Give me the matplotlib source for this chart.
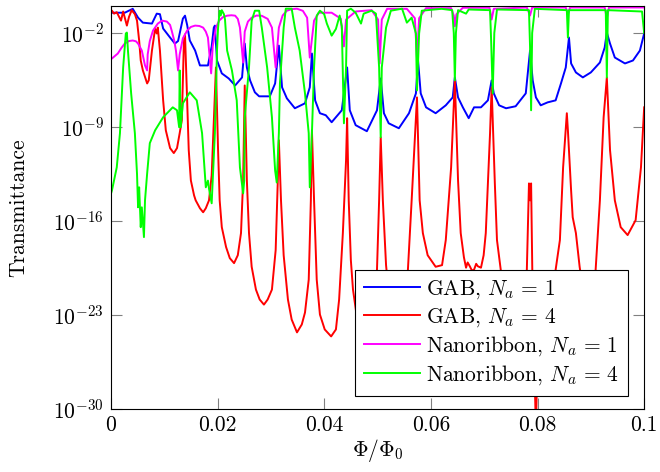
import numpy as np
import matplotlib
matplotlib.use("Agg")
import matplotlib.pyplot as plt
from matplotlib.ticker import FixedLocator, FuncFormatter, NullLocator

plt.rcParams['font.family'] = ['cmr10', 'DejaVu Serif']
plt.rcParams['mathtext.fontset'] = 'cm'
plt.rcParams['axes.formatter.use_mathtext'] = True
plt.rcParams['font.size'] = 15.5

# --- data (x = Phi/Phi0, y = log10 transmittance) ---
gab1_x = [0.0000, 0.0002, 0.0026, 0.0041, 0.0051, 0.0060, 0.0077, 0.0086, 0.0092, 0.0098,
          0.0111, 0.0120, 0.0126, 0.0135, 0.0139, 0.0143, 0.0148, 0.0158, 0.0167, 0.0182,
          0.0189, 0.0193, 0.0195, 0.0199, 0.0208, 0.0221, 0.0233, 0.0246, 0.0251, 0.0255,
          0.0261, 0.0270, 0.0278, 0.0298, 0.0308, 0.0315, 0.0321, 0.0330, 0.0345, 0.0364,
          0.0373, 0.0377, 0.0383, 0.0392, 0.0403, 0.0414, 0.0433, 0.0443, 0.0448, 0.0459,
          0.0480, 0.0499, 0.0506, 0.0512, 0.0521, 0.0540, 0.0559, 0.0572, 0.0576, 0.0581,
          0.0591, 0.0609, 0.0628, 0.0641, 0.0645, 0.0651, 0.0660, 0.0671, 0.0681, 0.0694,
          0.0707, 0.0714, 0.0718, 0.0728, 0.0741, 0.0759, 0.0778, 0.0786, 0.0791, 0.0797,
          0.0806, 0.0819, 0.0834, 0.0844, 0.0853, 0.0859, 0.0863, 0.0872, 0.0885, 0.0900,
          0.0917, 0.0926, 0.0930, 0.0936, 0.0945, 0.0964, 0.0979, 0.0992, 0.1000]
gab1_log = [-0.50, -0.49, -0.49, -0.20, -0.86, -1.23, -1.30, -0.56, -0.60, -1.67,
            -2.34, -2.79, -2.60, -0.93, -0.71, -1.40, -2.56, -3.31, -4.42, -4.42,
            -3.00, -1.60, -1.45, -4.05, -5.01, -5.39, -5.91, -5.31, -2.79, -4.57,
            -5.53, -6.42, -6.72, -6.72, -5.76, -2.94, -6.05, -6.87, -7.61, -7.24,
            -6.05, -3.53, -7.02, -7.98, -8.13, -8.65, -7.76, -4.57, -7.76, -8.87,
            -9.32, -7.76, -5.39, -7.98, -8.73, -9.10, -7.98, -6.50, -4.05, -6.50,
            -7.54, -7.98, -7.39, -6.80, -5.31, -6.80, -7.54, -8.35, -7.54, -7.54,
            -7.02, -5.53, -6.50, -7.39, -7.61, -7.46, -6.50, -3.31, -5.53, -6.80,
            -7.39, -7.17, -7.02, -5.76, -4.57, -2.34, -4.27, -4.94, -5.31, -4.94,
            -4.20, -3.08, -1.97, -2.79, -3.83, -4.27, -4.05, -3.31, -2.04]

gab4_x = [0.0000, 0.0002, 0.0006, 0.0011, 0.0019, 0.0023, 0.0030, 0.0034, 0.0039, 0.0045,
          0.0049, 0.0053, 0.0056, 0.0060, 0.0068, 0.0071, 0.0077, 0.0083, 0.0086, 0.0088,
          0.0092, 0.0098, 0.0103, 0.0111, 0.0118, 0.0124, 0.0129, 0.0133, 0.0137, 0.0139,
          0.0143, 0.0146, 0.0150, 0.0156, 0.0159, 0.0167, 0.0173, 0.0178, 0.0184, 0.0189,
          0.0193, 0.0197, 0.0201, 0.0204, 0.0208, 0.0216, 0.0223, 0.0231, 0.0238, 0.0244,
          0.0248, 0.0251, 0.0255, 0.0259, 0.0264, 0.0272, 0.0279, 0.0287, 0.0294, 0.0302,
          0.0309, 0.0313, 0.0315, 0.0319, 0.0324, 0.0332, 0.0339, 0.0349, 0.0358, 0.0364,
          0.0371, 0.0375, 0.0377, 0.0381, 0.0386, 0.0392, 0.0401, 0.0413, 0.0422, 0.0428,
          0.0435, 0.0441, 0.0443, 0.0446, 0.0450, 0.0454, 0.0466, 0.0480, 0.0494, 0.0499,
          0.0503, 0.0506, 0.0510, 0.0516, 0.0525, 0.0538, 0.0550, 0.0557, 0.0564, 0.0574,
          0.0579, 0.0585, 0.0594, 0.0609, 0.0621, 0.0628, 0.0638, 0.0645, 0.0651, 0.0656,
          0.0662, 0.0666, 0.0669, 0.0673, 0.0677, 0.0681, 0.0685, 0.0688, 0.0694, 0.0699,
          0.0703, 0.0711, 0.0714, 0.0720, 0.0724, 0.0731, 0.0745, 0.0758, 0.0770, 0.0780,
          0.0784, 0.0786, 0.0788, 0.0791, 0.0797, 0.0801, 0.0815, 0.0828, 0.0834, 0.0842,
          0.0848, 0.0855, 0.0857, 0.0863, 0.0866, 0.0872, 0.0879, 0.0894, 0.0905, 0.0909,
          0.0917, 0.0924, 0.0930, 0.0936, 0.0945, 0.0956, 0.0969, 0.0984, 0.0994, 0.1000]
gab4_log = [-0.40, -0.34, -0.56, -0.45, -1.08, -0.40, -1.45, -0.80, -0.30, -0.60,
            -1.08, -2.56, -4.05, -4.79, -5.76, -5.53, -3.31, -1.67, -2.04, -1.60,
            -3.31, -7.02, -9.25, -10.58, -10.95, -10.58, -9.47, -8.50, -2.56, -2.10,
            -7.02, -10.73, -12.99, -14.10, -14.47, -15.06, -15.36, -15.06, -14.47, -12.61,
            -8.50, -4.57, -10.73, -14.47, -16.47, -17.95, -18.78, -19.15, -18.56, -16.91,
            -12.99, -5.91, -12.99, -16.91, -19.42, -21.12, -21.86, -22.24, -21.86, -21.12,
            -18.18, -12.99, -9.99, -14.47, -18.56, -21.86, -23.35, -24.31, -23.72, -22.83,
            -20.38, -14.47, -9.25, -14.47, -20.38, -22.98, -24.09, -24.61, -24.09, -21.86,
            -16.91, -11.47, -8.35, -14.47, -18.93, -21.12, -24.50, -24.00, -21.00, -19.64,
            -14.47, -9.77, -14.47, -19.30, -23.00, -25.50, -23.00, -19.64, -14.47, -6.80,
            -14.47, -16.91, -18.56, -19.42, -19.30, -17.43, -12.02, -5.53, -12.99, -16.91,
            -18.71, -19.49, -19.10, -19.38, -19.70, -19.64, -19.20, -19.38, -19.49, -18.56,
            -16.91, -9.47, -6.05, -13.21, -17.43, -19.64, -24.00, -26.00, -23.50, -19.64,
            -13.21, -14.47, -13.21, -21.86, -31.50, -24.50, -25.50, -22.00, -19.64, -17.43,
            -12.02, -7.98, -9.25, -13.73, -15.73, -16.91, -19.42, -23.50, -21.00, -19.64,
            -14.47, -8.28, -5.31, -10.73, -14.47, -16.47, -17.06, -15.95, -12.02, -7.54]

ribbon1_x = [0.0000, 0.0002, 0.0013, 0.0020, 0.0026, 0.0034, 0.0041, 0.0047, 0.0051, 0.0058,
             0.0064, 0.0068, 0.0069, 0.0073, 0.0079, 0.0088, 0.0096, 0.0105, 0.0111, 0.0114,
             0.0119, 0.0122, 0.0126, 0.0129, 0.0135, 0.0143, 0.0150, 0.0158, 0.0166, 0.0173,
             0.0178, 0.0182, 0.0188, 0.0191, 0.0197, 0.0203, 0.0210, 0.0218, 0.0226, 0.0233,
             0.0238, 0.0242, 0.0248, 0.0251, 0.0257, 0.0264, 0.0273, 0.0283, 0.0294, 0.0302,
             0.0309, 0.0315, 0.0322, 0.0330, 0.0340, 0.0349, 0.0360, 0.0368, 0.0373, 0.0381,
             0.0390, 0.0414, 0.0431, 0.0437, 0.0441, 0.0459, 0.0489, 0.0501, 0.0504, 0.0508,
             0.0518, 0.0555, 0.0570, 0.0574, 0.0578, 0.0591, 0.0638, 0.0643, 0.0645, 0.0648,
             0.0660, 0.0710, 0.0714, 0.0718, 0.0780, 0.0786, 0.0790, 0.0853, 0.0857, 0.0861,
             0.0926, 0.0930, 0.0934, 0.1000]
ribbon1_log = [-3.95, -3.90, -3.53, -3.10, -2.79, -2.60, -2.56, -2.62, -2.79, -3.31,
               -4.42, -4.79, -3.60, -2.60, -1.82, -1.30, -1.08, -1.15, -1.40, -1.82,
               -2.60, -3.31, -4.79, -3.60, -2.40, -1.82, -1.55, -1.45, -1.48, -1.60,
               -1.90, -2.34, -5.01, -3.00, -1.60, -1.08, -0.82, -0.71, -0.68, -0.71,
               -0.95, -1.60, -4.20, -1.90, -1.15, -0.86, -0.70, -0.72, -0.95, -1.60,
               -4.57, -1.60, -0.70, -0.34, -0.22, -0.19, -0.35, -0.86, -3.83, -1.08,
               -0.49, -0.49, -0.93, -3.00, -1.00, -0.40, -0.30, -1.00, -4.27, -1.00,
               -0.20, -0.20, -0.90, -3.90, -0.90, -0.15, -0.15, -0.70, -1.50, -0.60,
               -0.12, -0.12, -1.00, -0.20, -0.10, -0.70, -0.10, -0.10, -0.60, -0.10,
               -0.10, -0.90, -0.10, -0.10]

ribbon4_x = [0.0000, 0.0002, 0.0011, 0.0017, 0.0023, 0.0028, 0.0030, 0.0032, 0.0038, 0.0045,
             0.0049, 0.0051, 0.0053, 0.0056, 0.0058, 0.0062, 0.0064, 0.0068, 0.0073, 0.0083,
             0.0098, 0.0116, 0.0124, 0.0128, 0.0129, 0.0131, 0.0135, 0.0148, 0.0161, 0.0171,
             0.0178, 0.0182, 0.0184, 0.0189, 0.0195, 0.0199, 0.0201, 0.0204, 0.0206, 0.0208,
             0.0212, 0.0214, 0.0218, 0.0227, 0.0236, 0.0242, 0.0248, 0.0250, 0.0251, 0.0259,
             0.0264, 0.0270, 0.0278, 0.0283, 0.0293, 0.0302, 0.0308, 0.0311, 0.0315, 0.0317,
             0.0324, 0.0328, 0.0339, 0.0345, 0.0354, 0.0364, 0.0371, 0.0373, 0.0377, 0.0381,
             0.0386, 0.0392, 0.0400, 0.0405, 0.0414, 0.0422, 0.0429, 0.0433, 0.0437, 0.0441,
             0.0443, 0.0450, 0.0459, 0.0469, 0.0474, 0.0489, 0.0497, 0.0503, 0.0506, 0.0508,
             0.0516, 0.0525, 0.0546, 0.0555, 0.0564, 0.0572, 0.0574, 0.0578, 0.0583, 0.0620,
             0.0640, 0.0643, 0.0645, 0.0647, 0.0651, 0.0666, 0.0671, 0.0711, 0.0713, 0.0716,
             0.0719, 0.0724, 0.0784, 0.0786, 0.0788, 0.0790, 0.0795, 0.0855, 0.0857, 0.0859,
             0.0928, 0.0930, 0.0932, 0.0996, 0.1000]
ribbon4_log = [-14.00, -13.73, -12.02, -9.47, -4.57, -2.04, -1.97, -3.31, -6.50, -9.47,
               -12.50, -14.99, -13.50, -16.47, -14.99, -17.21, -14.47, -12.47, -10.21, -9.25,
               -8.28, -7.54, -7.76, -9.02, -4.79, -9.02, -7.24, -6.42, -7.02, -9.47,
               -13.50, -13.00, -13.60, -14.69, -9.47, -3.31, -1.60, -0.34, -0.70, -0.30,
               -0.60, -1.00, -3.31, -4.79, -7.02, -12.02, -13.95, -13.00, -8.28, -4.57,
               -1.08, -0.34, -0.34, -1.60, -4.57, -8.28, -12.25, -13.14, -9.47, -5.76,
               -1.60, -0.19, -0.19, -1.60, -3.31, -6.50, -9.47, -13.50, -9.47, -4.57,
               -0.71, -0.34, -0.60, -1.30, -2.20, -1.70, -0.70, -1.50, -8.73, -4.57,
               -0.34, -0.19, -0.49, -1.30, -0.56, -0.34, -0.56, -4.57, -9.77, -4.57,
               -1.60, -0.34, -0.19, -1.23, -0.86, -2.04, -6.28, -2.04, -0.34, -0.20,
               -0.30, -2.00, -5.53, -2.00, -0.30, -0.56, -0.25, -0.30, -2.50, -6.50,
               -2.00, -0.25, -0.30, -3.00, -7.76, -2.00, -0.20, -0.30, -2.34, -0.30,
               -0.30, -5.31, -0.30, -0.40, -2.00]

labels = [r'GAB, $N_a\,=\,1$', r'GAB, $N_a\,=\,4$',
          r'Nanoribbon, $N_a\,=\,1$', r'Nanoribbon, $N_a\,=\,4$']
colors = ['blue', 'red', 'magenta', 'lime']

fig = plt.figure(figsize=(6.6, 4.72), dpi=100)
ax = fig.add_axes([0.168, 0.134, 0.808, 0.853])

series = [(gab1_x, gab1_log), (gab4_x, gab4_log),
          (ribbon1_x, ribbon1_log), (ribbon4_x, ribbon4_log)]
for (xs, ls), lab, c in zip(series, labels, colors):
    ax.plot(xs, 10.0 ** np.array(ls), color=c, lw=1.4, label=lab)

ax.set_yscale('log')
ax.set_xlim(0, 0.1)
ax.set_ylim(1e-30, 1)

ax.yaxis.set_major_locator(FixedLocator([1e-30, 1e-23, 1e-16, 1e-9, 1e-2]))
ax.yaxis.set_minor_locator(NullLocator())
ax.xaxis.set_major_locator(FixedLocator([0, 0.02, 0.04, 0.06, 0.08, 0.1]))
ax.xaxis.set_major_formatter(FuncFormatter(lambda v, p: f'{v:g}'))
ax.tick_params(direction='in', length=8, width=0.8, color='#808080',
               top=True, right=True, labelsize=15.5, pad=5)

for s in ax.spines.values():
    s.set_linewidth(0.8)
    s.set_color('black')

ax.set_xlabel(r'$\Phi/\Phi_0$', fontsize=15.5, labelpad=1)
ax.set_ylabel('Transmittance', fontsize=15.5)
ax.yaxis.set_label_coords(-0.155, 0.5)

leg = ax.legend(loc='lower right', bbox_to_anchor=(0.970, 0.032), borderaxespad=0,
                fontsize=15.5, fancybox=False, framealpha=1, edgecolor='black',
                handlelength=2.6, handletextpad=0.3, labelspacing=0.25,
                borderpad=0.4)
leg.get_frame().set_linewidth(0.8)

fig.savefig('out.png', dpi=100)
